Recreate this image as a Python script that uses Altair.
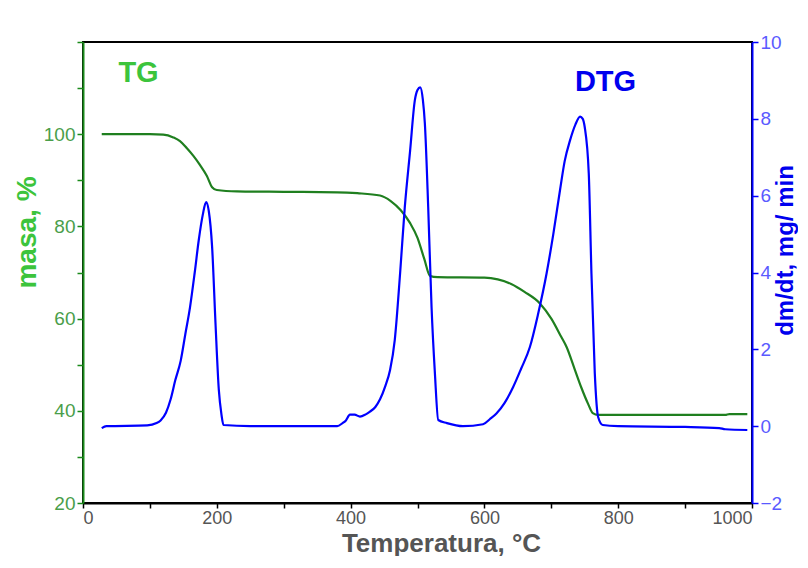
import altair as alt
import pandas as pd

# TG curve (mass %, left axis)
tg_T = [28, 60, 100, 120, 135, 145, 155, 165, 175, 185, 193, 200, 230, 300, 380, 410, 444, 460, 475,
        489, 500, 510, 519, 530, 600, 620, 640, 660, 683, 700, 715, 723, 735, 745, 755, 762, 770,
        850, 960, 966, 993]
tg_mass = [100, 100, 100, 99.9, 99.3, 98.5, 97, 95.3, 93.3, 91, 88.5, 87.9, 87.6, 87.5, 87.4, 87.2,
           86.7, 85.5, 83.5, 80.7, 77.5, 73, 69.2, 69, 68.9, 68.5, 67.5, 65.8, 63.3, 60, 56, 53.8,
           49, 45, 41.5, 39.5, 39.1, 39.1, 39.1, 39.3, 39.3]

# DTG curve (dm/dt, right axis)
dtg_T = [28, 35, 96, 110, 116, 124, 131, 138, 146, 153, 160, 167, 173, 179, 184, 188, 193, 198, 203,
         207, 210, 250, 380, 388, 393, 399, 406, 414, 422, 429, 437, 444, 452, 459, 466, 474, 481,
         489, 496, 500, 504, 508, 511, 516, 521, 526, 531, 544, 568, 598, 608, 618, 630, 643, 655,
         668, 680, 693, 703, 713, 720, 728, 736, 743, 747, 750, 756, 760, 765, 770, 777, 800, 900,
         951, 960, 993]
dtg_val = [-0.05, 0.0, 0.02, 0.08, 0.15, 0.35, 0.7, 1.2, 1.7, 2.4, 3.1, 4.0, 4.84, 5.5, 5.83, 5.6,
           4.66, 2.7, 0.95, 0.3, 0.03, 0.0, 0.0, 0.08, 0.15, 0.3, 0.3, 0.25, 0.3, 0.38, 0.5, 0.7,
           1.05, 1.46, 2.24, 3.98, 5.7, 7.18, 8.48, 8.75, 8.82, 8.5, 7.88, 5.7, 3.1, 1.38, 0.16,
           0.08, 0.0, 0.05, 0.18, 0.33, 0.6, 1.02, 1.5, 2.06, 2.9, 3.98, 5.0, 6.14, 6.9, 7.44, 7.85,
           8.06, 8.0, 7.78, 6.58, 3.98, 1.38, 0.24, 0.03, 0.0, -0.02, -0.05, -0.08, -0.1]

x_ticks = list(range(0, 1001, 100))
left_ticks = list(range(20, 121, 10))
right_ticks = list(range(-2, 11, 1))

LABEL_FONT = "Liberation Sans"
TITLE_FONT = "Liberation Sans"

tg_df = pd.DataFrame({"T": tg_T, "mass": tg_mass})
dtg_df = pd.DataFrame({"T": dtg_T, "dtg": dtg_val})

x_enc = alt.X(
    "T:Q",
    scale=alt.Scale(domain=[0, 1000], nice=False),
    axis=alt.Axis(
        values=x_ticks,
        format="d",
        labelExpr="datum.value % 200 == 0 ? datum.label : ''",
        title="Temperatura, °C",
        titleFont=TITLE_FONT, titleFontSize=26, titleFontWeight="bold", titleColor="#555555",
        titleX=358, titleY=40, titleAlign="center", titleBaseline="middle",
        labelFont=LABEL_FONT, labelFontSize=18, labelColor="#555555", labelPadding=1,
        domainColor="#000000", domainWidth=2, tickColor="#000000", tickSize=5, tickWidth=1.5,
        grid=False,
    ),
)

tg_line = alt.Chart(tg_df).mark_line(color="#1f7f1f", strokeWidth=2.2, interpolate="monotone").encode(
    x=x_enc,
    y=alt.Y(
        "mass:Q",
        scale=alt.Scale(domain=[20, 120], nice=False),
        axis=alt.Axis(
            orient="left",
            values=left_ticks,
            labelExpr="datum.value % 20 == 0 && datum.value < 120 ? datum.label : ''",
            title="masa, %",
            titleFont=TITLE_FONT, titleFontSize=28, titleFontWeight="bold", titleColor="#3cc43c",
            titleAngle=270, titleX=-56, titleY=190, titleAlign="center", titleBaseline="middle",
            labelFont=LABEL_FONT, labelFontSize=19, labelColor="#4a9e4a", labelPadding=2,
            domainColor="#1a8a1a", domainWidth=2, tickColor="#1a8a1a", tickSize=6, tickWidth=1.5,
            grid=False,
        ),
    ),
)

tg_text = alt.Chart(pd.DataFrame({"T": [83], "mass": [113.2], "t": ["TG"]})).mark_text(
    font=TITLE_FONT, fontSize=29, fontWeight="bold", color="#3cc43c", align="center", baseline="middle"
).encode(x="T:Q", y=alt.Y("mass:Q"), text="t:N")

tg_layer = alt.layer(tg_line, tg_text)

dtg_line = alt.Chart(dtg_df).mark_line(color="#0000ff", strokeWidth=2.2, interpolate="monotone").encode(
    x=x_enc,
    y=alt.Y(
        "dtg:Q",
        scale=alt.Scale(domain=[-2, 10], nice=False),
        axis=alt.Axis(
            orient="right",
            values=right_ticks,
            labelExpr="datum.value % 2 == 0 ? datum.label : ''",
            title="dm/dt, mg/ min",
            titleFont=TITLE_FONT, titleFontSize=24, titleFontWeight="bold", titleColor="#0000ee",
            titleAngle=270, titleX=33, titleY=208, titleAlign="center", titleBaseline="middle",
            labelFont=LABEL_FONT, labelFontSize=19, labelColor="#5a5aff", labelPadding=2,
            domainColor="#0000ff", domainWidth=2, tickColor="#0000ff", tickSize=6, tickWidth=1.5,
            grid=False,
        ),
    ),
)

dtg_text = alt.Chart(pd.DataFrame({"T": [781], "dtg": [8.95], "t": ["DTG"]})).mark_text(
    font=TITLE_FONT, fontSize=29, fontWeight="bold", color="#0000ee", align="center", baseline="middle"
).encode(x="T:Q", y=alt.Y("dtg:Q"), text="t:N")

dtg_layer = alt.layer(dtg_line, dtg_text)

chart = alt.layer(tg_layer, dtg_layer).resolve_scale(y="independent").properties(
    width=669,
    height=461,
    autosize=alt.AutoSizeParams(type="none"),
    padding={"left": 75, "top": 34, "right": 46, "bottom": 53},
    background="white",
).configure_view(stroke="#000000", strokeWidth=2)

chart.save("out.html", embed_options={"renderer": "svg", "actions": False})
